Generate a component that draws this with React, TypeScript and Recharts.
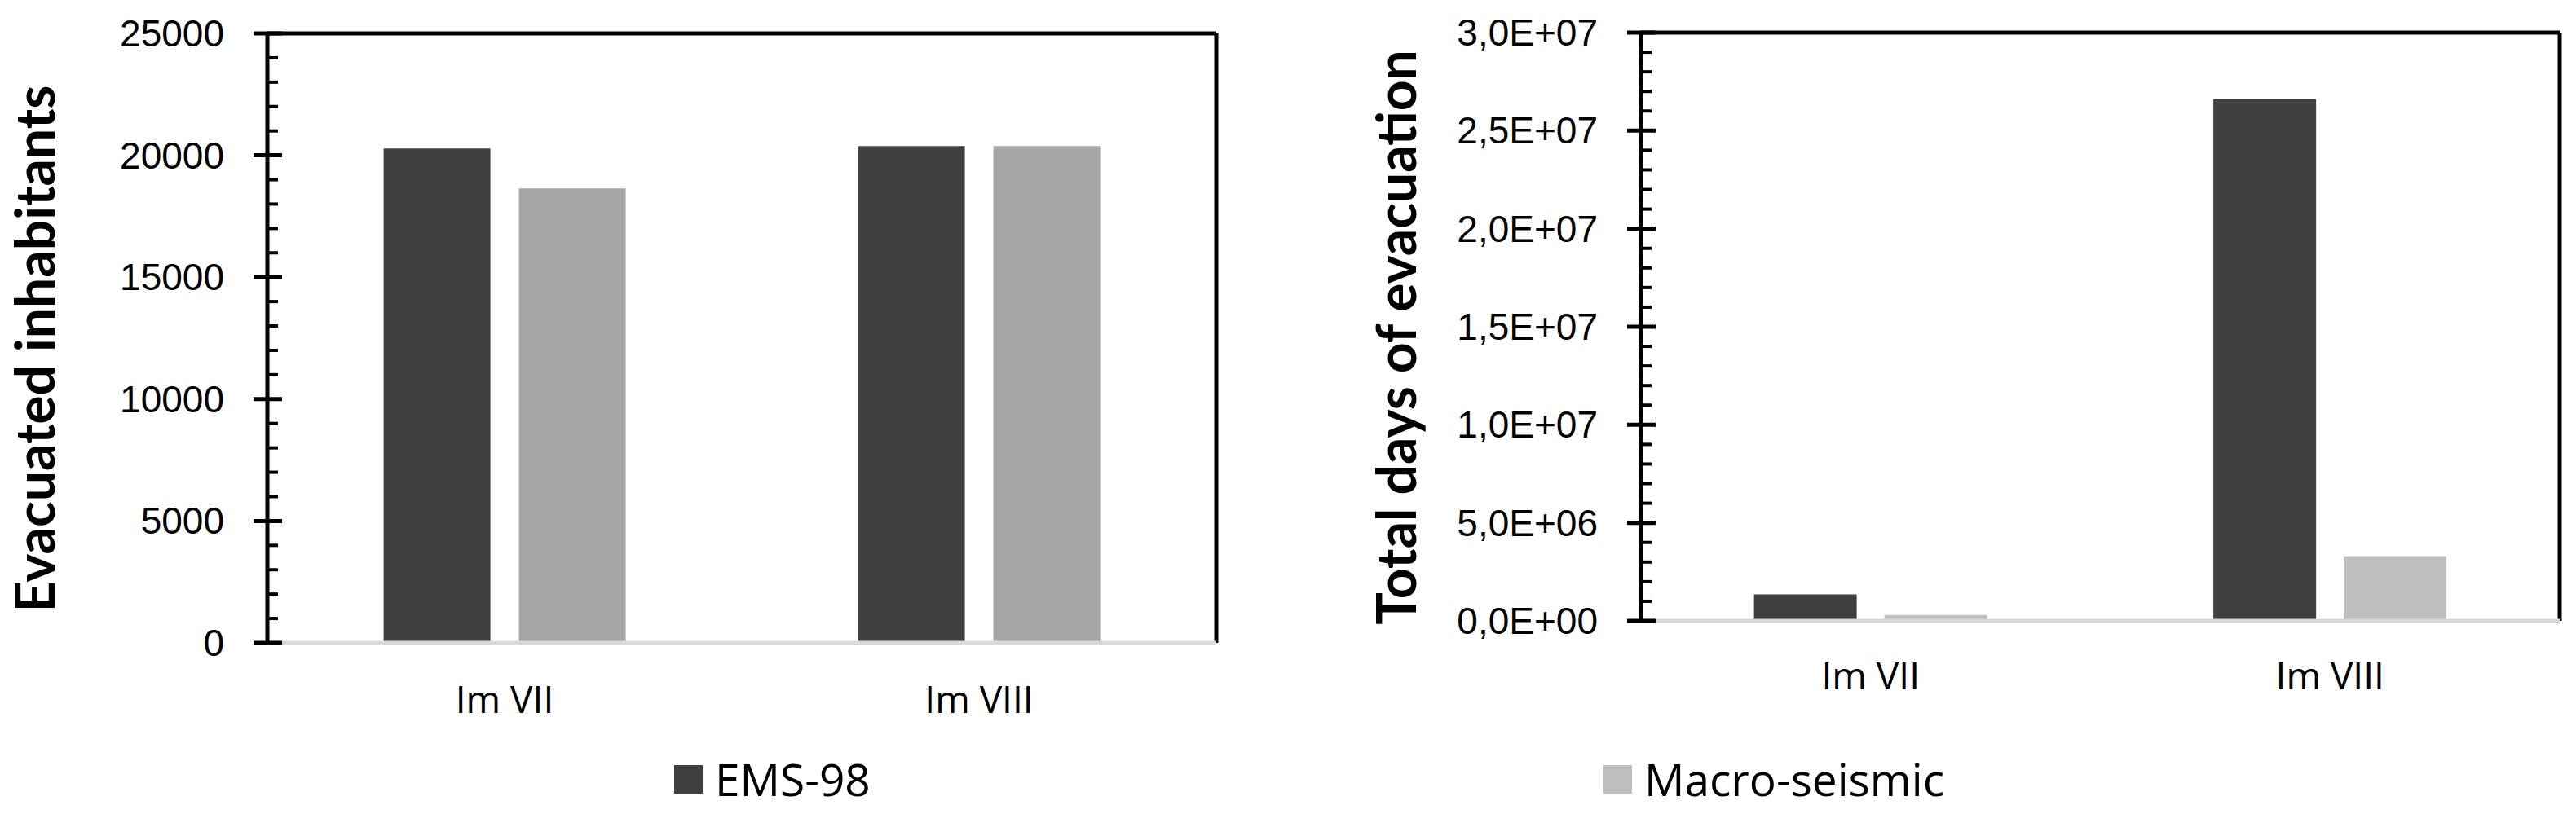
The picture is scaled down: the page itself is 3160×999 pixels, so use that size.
import React from 'react'
import { BarChart, Bar, XAxis, YAxis, CartesianGrid } from 'recharts'

const categories = ['Im VII', 'Im VIII']

// left panel: evacuated inhabitants
const emsInhabitants = [20280, 20380]
const macroInhabitants = [18640, 20380]

// right panel: total days of evacuation
const emsDays = [1350000, 26600000]
const macroDays = [300000, 3300000]

const inhabitantMajor = [0, 5000, 10000, 15000, 20000, 25000]
const inhabitantTicks = [
    0, 1000, 2000, 3000, 4000, 5000, 6000, 7000, 8000, 9000, 10000, 11000, 12000,
    13000, 14000, 15000, 16000, 17000, 18000, 19000, 20000, 21000, 22000, 23000, 24000, 25000,
]
const daysMajor = [0, 5e6, 1e7, 1.5e7, 2e7, 2.5e7, 3e7]
const daysTicks = [
    0, 1e6, 2e6, 3e6, 4e6, 5e6, 6e6, 7e6, 8e6, 9e6, 1e7, 1.1e7, 1.2e7, 1.3e7, 1.4e7, 1.5e7,
    1.6e7, 1.7e7, 1.8e7, 1.9e7, 2e7, 2.1e7, 2.2e7, 2.3e7, 2.4e7, 2.5e7, 2.6e7, 2.7e7, 2.8e7,
    2.9e7, 3e7,
]

const legendItems = [
    { name: 'EMS-98', color: '#404040' },
    { name: 'Macro-seismic', color: '#BFBFBF' },
]

const leftData = categories.map((c, i) => ({ cat: c, ems: emsInhabitants[i], macro: macroInhabitants[i] }))
const rightData = categories.map((c, i) => ({ cat: c, ems: emsDays[i], macro: macroDays[i] }))

function fmtSci(v: number) {
    if (v === 0) return '0,0E+00'
    const exp = Math.floor(Math.log10(v) + 1e-9)
    const mant = (v / Math.pow(10, exp)).toFixed(1).replace('.', ',')
    return `${mant}E+${String(exp).padStart(2, '0')}`
}

function YTick(props: any) {
    const { x, y, payload, majors, fmt } = props
    const v = payload.value
    if (majors.includes(v)) {
        return (
            <g>
                <line x1={x - 17} x2={x + 18} y1={y} y2={y} stroke="#000" strokeWidth={5} />
                <text
                    x={x - 53}
                    y={y}
                    textAnchor="end"
                    dominantBaseline="central"
                    fontFamily="Liberation Sans"
                    fontSize={46}
                    fill="#000"
                >
                    {fmt(v)}
                </text>
            </g>
        )
    }
    return <line x1={x} x2={x + 13} y1={y} y2={y} stroke="#000" strokeWidth={4} />
}

function XTick(props: any) {
    const { x, y, payload, dy } = props
    return (
        <text
            x={x}
            y={y + dy}
            textAnchor="middle"
            dominantBaseline="central"
            fontFamily="Open Sans"
            fontSize={46}
            fill="#000"
        >
            {payload.value}
        </text>
    )
}

function YTitle(props: any) {
    const { cx, cy, text } = props
    return (
        <text
            x={cx}
            y={cy}
            transform={`rotate(-90 ${cx} ${cy})`}
            textAnchor="middle"
            dominantBaseline="central"
            fontFamily="Lato"
            fontWeight={700}
            fontSize={66}
            fill="#000"
        >
            {text}
        </text>
    )
}

// frame: top and right edges of the plot area
const topEdge = ({ offset }: any) => [offset.top]
const rightEdge = ({ offset }: any) => [offset.left + offset.width]

function Legend2() {
    const lefts = [827, 1967]
    return (
        <>
            {legendItems.map((it, i) => (
                <div
                    key={it.name}
                    style={{
                        position: 'absolute',
                        left: lefts[i],
                        top: 921,
                        height: 70,
                        display: 'flex',
                        alignItems: 'center',
                        fontFamily: 'Open Sans',
                        fontSize: 55,
                        lineHeight: '70px',
                        color: '#000',
                        whiteSpace: 'nowrap',
                    }}
                >
                    <span style={{ width: 35, height: 35, background: it.color, marginRight: 15, display: 'inline-block' }} />
                    <span>{it.name}</span>
                </div>
            ))}
        </>
    )
}

export default function App() {
    return (
        <div style={{ position: 'absolute', left: 0, top: 0, width: 3160, height: 999, background: '#fff' }}>
            <div style={{ position: 'absolute', left: 0, top: 0 }}>
                <BarChart
                    width={1500}
                    height={999}
                    data={leftData}
                    margin={{ top: 41, right: 8, bottom: 130, left: 0 }}
                    barCategoryGap="24.5%"
                    barGap={35}
                >
                    <CartesianGrid
                        stroke="#000"
                        strokeWidth={5}
                        horizontalCoordinatesGenerator={topEdge}
                        verticalCoordinatesGenerator={rightEdge}
                    />
                    <XAxis
                        dataKey="cat"
                        height={80}
                        axisLine={{ stroke: '#d9d9d9', strokeWidth: 5 }}
                        tickLine={false}
                        tickSize={0}
                        tickMargin={0}
                        interval={0}
                        tick={<XTick dy={68} />}
                    />
                    <YAxis
                        type="number"
                        domain={[0, 25000]}
                        ticks={inhabitantTicks}
                        interval={0}
                        width={328}
                        axisLine={{ stroke: '#000', strokeWidth: 5 }}
                        tickLine={false}
                        tickSize={0}
                        tickMargin={0}
                        tick={<YTick majors={inhabitantMajor} fmt={(v: number) => String(v)} />}
                        label={<YTitle cx={41} cy={428} text="Evacuated inhabitants" />}
                    />
                    <Bar dataKey="ems" name="EMS-98" fill="#404040" isAnimationActive={false} />
                    <Bar dataKey="macro" name="Macro-seismic" fill="#A6A6A6" isAnimationActive={false} />
                </BarChart>
            </div>
            <div style={{ position: 'absolute', left: 1600, top: 0 }}>
                <BarChart
                    width={1560}
                    height={999}
                    data={rightData}
                    margin={{ top: 40, right: 20, bottom: 157, left: 0 }}
                    barCategoryGap="24.6%"
                    barGap={34}
                >
                    <CartesianGrid
                        stroke="#000"
                        strokeWidth={5}
                        horizontalCoordinatesGenerator={topEdge}
                        verticalCoordinatesGenerator={rightEdge}
                    />
                    <XAxis
                        dataKey="cat"
                        height={80}
                        axisLine={{ stroke: '#d9d9d9', strokeWidth: 5 }}
                        tickLine={false}
                        tickSize={0}
                        tickMargin={0}
                        interval={0}
                        tick={<XTick dy={66} />}
                    />
                    <YAxis
                        type="number"
                        domain={[0, 3e7]}
                        ticks={daysTicks}
                        interval={0}
                        width={413}
                        axisLine={{ stroke: '#000', strokeWidth: 5 }}
                        tickLine={false}
                        tickSize={0}
                        tickMargin={0}
                        tick={<YTick majors={daysMajor} fmt={fmtSci} />}
                        label={<YTitle cx={111} cy={414} text="Total days of evacuation" />}
                    />
                    <Bar dataKey="ems" name="EMS-98" fill="#404040" isAnimationActive={false} />
                    <Bar dataKey="macro" name="Macro-seismic" fill="#BFBFBF" isAnimationActive={false} />
                </BarChart>
            </div>
            <Legend2 />
        </div>
    )
}
